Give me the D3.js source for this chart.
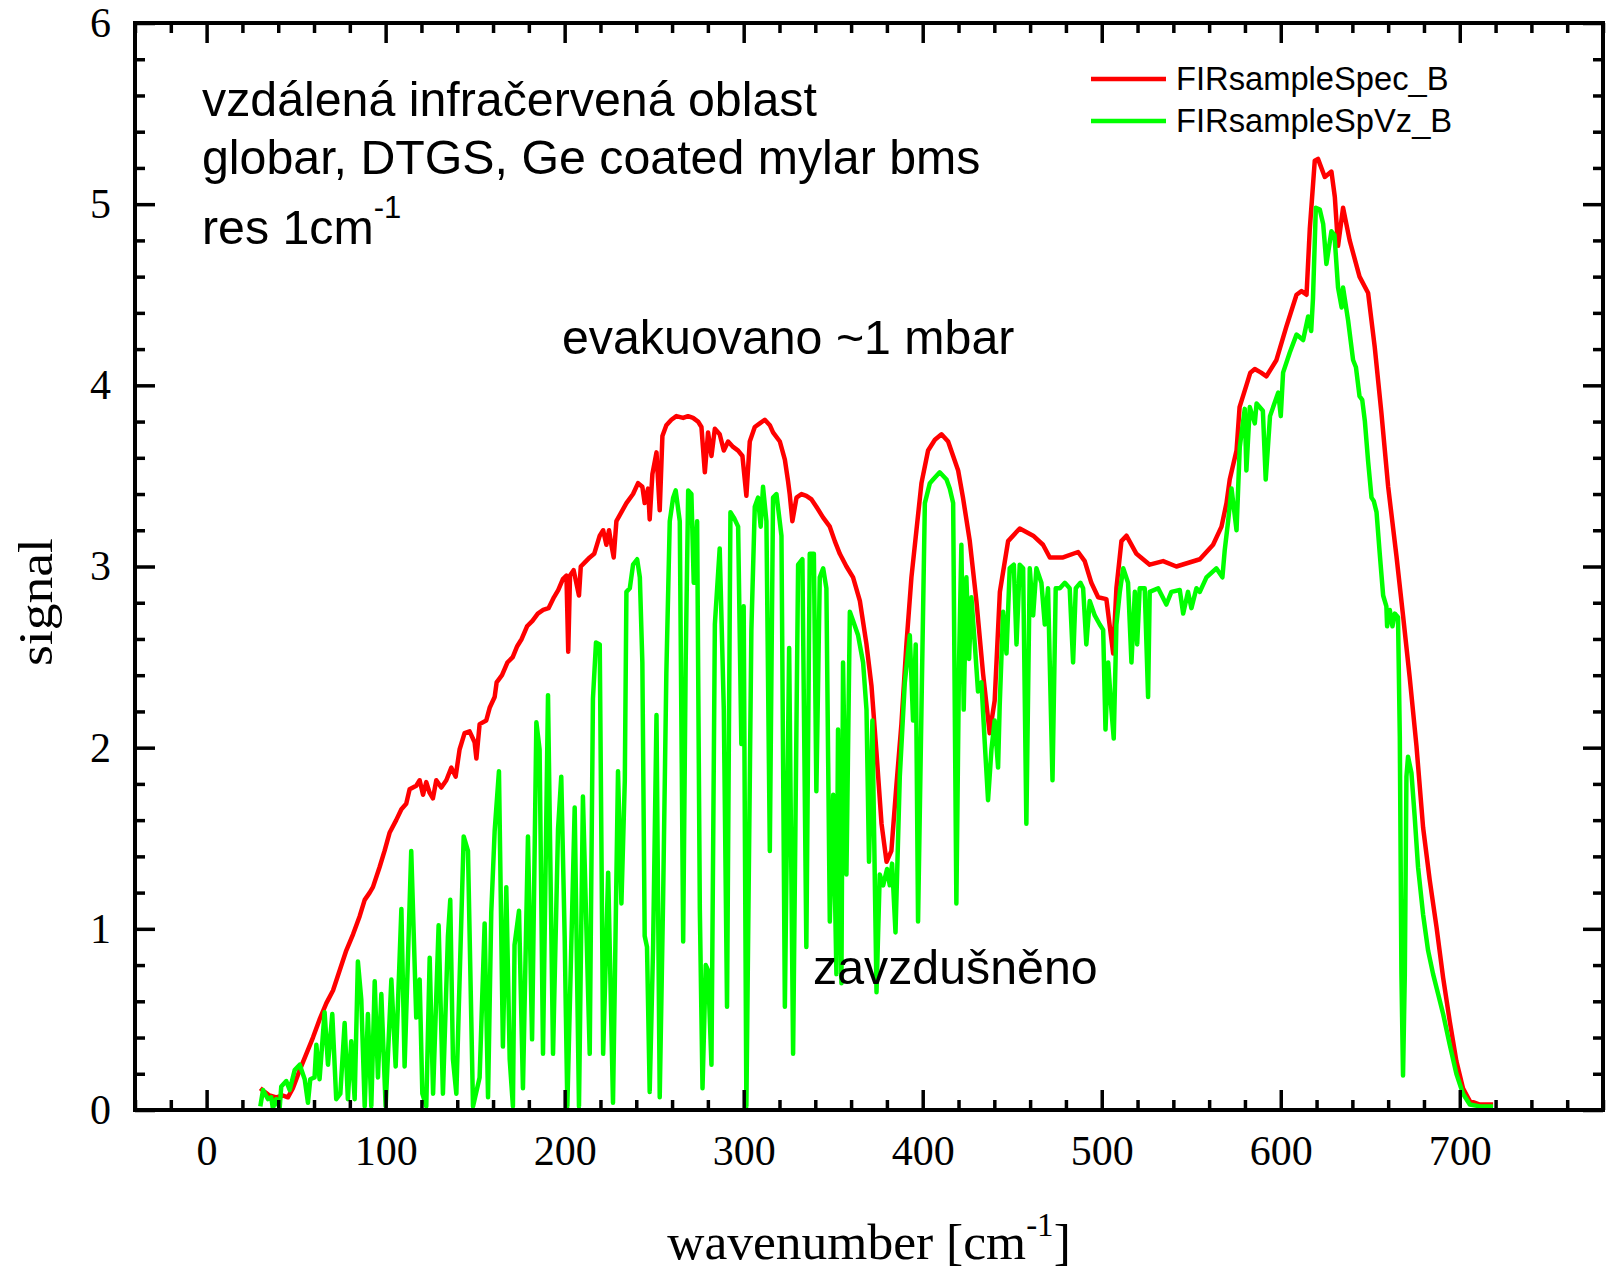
<!DOCTYPE html>
<html><head><meta charset="utf-8">
<script src="https://cdn.jsdelivr.net/npm/d3@7"></script>
<style>body{margin:0;background:#fff} svg{display:block}</style>
</head><body><svg id="c" width="1608" height="1272"></svg>
<script>
// ---- data (wavenumber [cm-1], signal) ----
const seriesNames = ["FIRsampleSpec_B", "FIRsampleSpVz_B"];
const xTickLabels = [0, 100, 200, 300, 400, 500, 600, 700];
const yTickLabels = [0, 1, 2, 3, 4, 5, 6];

const evacuatedSpectrum = [
[30,0.12],[32.4,0.10],[35.2,0.08],[38.9,0.07],[42.6,0.08],[45.4,0.07],[48.2,0.12],[52,0.22],[55.7,0.31],[59.4,0.40],
[63.1,0.50],[66.9,0.59],[70.6,0.66],[74.3,0.77],[78,0.88],[81.8,0.97],[85.5,1.07],[88.3,1.16],[91.1,1.20],[92.9,1.23],
[96.6,1.34],[99.4,1.43],[102.2,1.53],[105.9,1.60],[108.8,1.66],[111.5,1.69],[113.4,1.77],[117.1,1.79],[119,1.82],[120.9,1.74],
[122.7,1.81],[124.6,1.75],[126.4,1.72],[128.3,1.82],[131.1,1.78],[133.9,1.82],[136.7,1.89],[139.1,1.84],[141.3,1.99],[144.1,2.08],
[146.9,2.09],[149.7,2.03],[150.7,1.94],[152.5,2.13],[156.2,2.15],[158.1,2.22],[160.9,2.28],[162,2.36],[165,2.40],[168,2.47],
[171,2.50],[173.5,2.56],[176,2.60],[179,2.67],[182,2.70],[185,2.74],[188,2.76],[191,2.77],[194,2.83],[196.4,2.87],
[199,2.93],[201,2.95],[202,2.53],[203,2.95],[205,2.98],[208,2.84],[209,3.0],[211,3.02],[214,3.05],[216.5,3.07],
[219.6,3.17],[221.5,3.2],[223.3,3.12],[224.8,3.2],[226.1,3.12],[227.4,3.05],[228.9,3.25],[231.7,3.3],[234.5,3.35],[238.2,3.4],
[241,3.46],[243.4,3.44],[244.7,3.35],[246.6,3.43],[247.5,3.26],[249,3.51],[251.3,3.63],[253.1,3.31],[254.6,3.72],[256.8,3.78],
[259.6,3.81],[262.4,3.83],[266.2,3.82],[268.9,3.83],[271.7,3.82],[274.5,3.8],[276.4,3.77],[278.3,3.52],[280.1,3.74],[282,3.61],
[283.9,3.76],[286.6,3.73],[288.9,3.64],[291.3,3.69],[294.1,3.66],[296.9,3.64],[299.3,3.61],[301.5,3.39],[303.4,3.69],[306.2,3.77],
[309,3.79],[311.8,3.81],[314.6,3.78],[316.4,3.74],[320.2,3.69],[323,3.59],[324.8,3.47],[325.7,3.40],[327.2,3.25],[329.5,3.38],
[332.3,3.40],[335,3.39],[337.9,3.37],[340.6,3.33],[344.4,3.27],[348.1,3.22],[350.9,3.14],[353.7,3.07],[357.4,3.0],[361.1,2.94],
[364.9,2.81],[368.6,2.57],[371.4,2.34],[374.2,1.97],[377,1.58],[379.8,1.37],[382.5,1.43],[385.3,1.79],[388.1,2.13],[390.9,2.57],
[393.7,2.94],[396.5,3.20],[399.3,3.46],[403,3.64],[406.8,3.70],[410.5,3.73],[414.2,3.69],[417,3.61],[419.8,3.53],[422.5,3.38],
[426.3,3.14],[430,2.81],[433.7,2.41],[437.4,2.08],[440.2,2.26],[443.1,2.86],[447.7,3.14],[454.2,3.21],[461.7,3.17],[467.2,3.12],
[471,3.05],[478.4,3.05],[486.8,3.08],[490.5,3.03],[494.2,2.91],[498,2.83],[502.6,2.82],[506.4,2.52],[508.2,2.88],[511,3.14],
[513.8,3.17],[519.4,3.07],[526.8,3.01],[534.3,3.03],[541.7,3.0],[554.8,3.04],[562.2,3.12],[566.9,3.22],[569.7,3.35],[571.5,3.48],
[575.3,3.64],[577,3.88],[580.8,4.0],[583,4.07],[585.5,4.09],[589,4.07],[592,4.05],[597.6,4.14],[603,4.32],[608.8,4.5],
[611.6,4.52],[614.4,4.5],[616.2,4.86],[619,5.24],[620.8,5.25],[624.6,5.15],[628.3,5.18],[630.2,5.04],[632,4.77],[634.8,4.98],
[638.5,4.8],[644,4.6],[648.8,4.51],[652.5,4.21],[656.2,3.85],[660,3.44],[664.6,3.06],[668.3,2.73],[672,2.39],[675.8,2.01],
[679.5,1.56],[683.2,1.27],[687,1.01],[690.7,0.73],[694.4,0.49],[698.1,0.27],[701.8,0.12],[705.6,0.05],[711.2,0.03],[718.6,0.03]
];

const ventedSpectrum = [
[30,0.02],[31.5,0.11],[34.3,0.06],[36.1,0.07],[37,0.01],[38.9,0.06],[40.8,0.01],[41.7,0.13],[44.5,0.16],[46.4,0.11],
[49.2,0.22],[52,0.25],[54.8,0.17],[56.6,0.04],[57.9,0.17],[60.3,0.18],[61.3,0.36],[63.1,0.17],[65.9,0.54],[67.8,0.25],
[70.2,0.53],[72.4,0.06],[74.7,0.09],[77.1,0.48],[78.9,0.06],[80.8,0.38],[82.7,0.06],[84.5,0.82],[86.4,0.61],[88.3,0.02],
[90.1,0.53],[92,0.02],[93.9,0.71],[95.7,0.18],[97.6,0.64],[100,0.02],[103.2,0.72],[105.6,0.24],[108.8,1.11],[110.6,0.24],
[114.3,1.43],[117.1,0.51],[119,0.72],[120.5,0.09],[122.7,0.02],[124.6,0.84],[126.5,0.09],[129.6,1.02],[132,0.09],[134.8,0.96],
[136.1,1.16],[137.6,0.28],[139.5,0.09],[143.6,1.51],[146,1.43],[148.8,0.02],[152.5,0.18],[155.3,1.03],[157.2,0.07],[159,1.09],
[160.9,1.54],[163.3,1.87],[165.5,0.35],[167.4,1.23],[169.3,0.28],[171.1,0.02],[172,0.91],[174.5,1.10],[176.7,0.12],[179.5,1.51],
[181.8,0.39],[184.2,2.14],[186,1.99],[187.9,0.31],[190.7,2.29],[193.5,0.31],[196.3,1.55],[198.1,1.84],[200,0.96],[201.5,0.02],
[205.6,1.67],[208,0.02],[210.2,1.73],[214,0.31],[215.8,2.27],[217.5,2.58],[219.6,2.57],[221.5,0.31],[224.3,1.31],[227,0.04],
[229.8,1.87],[231.7,1.14],[233.6,1.82],[234.5,2.86],[236.4,2.88],[238.2,3.01],[240.5,3.04],[242,2.94],[243.4,2.47],[244.7,0.96],
[246,0.9],[247.5,0.1],[249.4,0.9],[251.3,2.18],[253.1,0.07],[255,1.17],[256.8,2.41],[258.7,3.25],[260.6,3.38],[262,3.42],
[264.3,3.25],[266.2,0.93],[267.6,2.47],[269,3.42],[270.8,3.4],[272.1,2.91],[274,3.25],[275.5,1.11],[277,0.12],[278.8,0.8],
[280.1,0.77],[282,0.25],[283.9,2.68],[286.6,3.1],[288.9,2.21],[290.7,0.57],[292.6,3.3],[294.5,3.27],[296.9,3.22],[298.7,2.02],
[300,2.78],[301.5,0.02],[304.3,2.65],[306.2,3.33],[308,3.38],[309.5,3.22],[310.8,3.44],[312.7,3.25],[314.6,1.43],[316.4,3.38],
[318.3,3.4],[321.1,3.17],[323,0.57],[325.4,2.55],[327.6,0.31],[330.4,3.01],[332.8,3.04],[335,0.9],[336.9,3.07],[339.2,3.07],
[340.6,1.76],[342.5,2.94],[344.4,2.99],[346.2,2.88],[348.1,1.04],[350,1.74],[351.8,0.75],[352.7,2.10],[354.6,0.7],[355.5,2.47],
[357.4,1.30],[359.3,2.75],[361.1,2.7],[363.9,2.62],[366.7,2.47],[368.6,2.21],[370,1.37],[371.9,2.15],[374.2,0.65],[376,1.30],
[377.9,1.24],[380.1,1.33],[381.6,1.24],[382.9,1.36],[384.8,0.98],[387.2,1.84],[390,2.36],[392.8,2.62],[394.6,2.15],[396.1,2.57],
[397.4,1.04],[399.3,2.21],[401.2,3.35],[404,3.46],[405.8,3.48],[409.5,3.52],[413.3,3.48],[415.1,3.43],[417,3.35],[418.8,1.14],
[420.3,2.47],[421.6,3.12],[422.9,2.21],[424.4,2.94],[425.9,2.49],[427.2,2.83],[429.1,2.57],[430.9,2.31],[432.8,2.36],[434.7,2.02],
[436.5,1.71],[438.4,1.99],[440.2,2.15],[442.1,1.89],[443,2.23],[444.9,2.75],[446.8,2.52],[448.6,2.99],[450.9,3.01],[452.4,2.57],
[454.2,3.01],[456.1,2.99],[457.9,1.58],[459.8,2.99],[461.7,2.73],[463.5,2.99],[466.3,2.91],[468.2,2.68],[470,2.88],[472.5,1.82],
[474.3,2.88],[476.6,2.88],[479.4,2.91],[482.1,2.88],[484,2.47],[485.5,2.88],[488.1,2.91],[489.6,2.88],[491.4,2.57],[493.3,2.81],
[496.1,2.73],[498.9,2.68],[500.8,2.65],[502.1,2.10],[503.6,2.47],[505.4,2.21],[506.7,2.05],[508.2,2.68],[510.1,2.86],[512,2.99],
[514.7,2.91],[516.6,2.47],[518.5,2.86],[519.8,2.57],[521.2,2.88],[524,2.88],[525.9,2.28],[526.8,2.86],[531.5,2.88],[536.1,2.79],
[538.9,2.86],[543.6,2.87],[545.5,2.74],[548.2,2.86],[550.1,2.77],[552.9,2.88],[554.8,2.86],[558.5,2.94],[564,2.99],[567.4,2.94],
[568.7,3.09],[570.6,3.25],[572.5,3.43],[575.3,3.2],[577.1,3.66],[579.9,3.87],[580.8,3.53],[582.7,3.88],[585.5,3.79],[586.5,3.9],
[590,3.86],[591.6,3.48],[594,3.83],[598.6,3.96],[600,3.83],[601.3,4.07],[605,4.18],[608.8,4.28],[612.5,4.25],[615.3,4.38],
[617,4.3],[618,4.48],[619.6,4.98],[621.8,4.97],[623.7,4.89],[625.5,4.67],[628.3,4.85],[630,4.83],[632,4.54],[634,4.43],
[634.8,4.54],[637.6,4.36],[640.4,4.14],[642,4.10],[644,3.94],[645.5,3.92],[647,3.8],[648.8,3.58],[650.7,3.38],[652,3.36],[653.5,3.3],[655.3,3.07],[657.2,2.84],
[659,2.78],[659.4,2.67],[660.9,2.76],[662.4,2.67],[663.7,2.74],[665.5,2.72],[666.5,2.06],[667.4,0.75],[668.3,0.19],[669.3,0.75],
[670.2,1.84],[671.1,1.95],[673,1.86],[674.8,1.62],[676.7,1.34],[679.5,1.08],[682.3,0.88],[685.1,0.75],[687.9,0.64],[690.7,0.53],
[694.4,0.36],[698.1,0.20],[701.8,0.09],[705.6,0.03],[711.2,0.02],[718.6,0.02]
];

// ---- layout ----
const svg = d3.select("#c");
const L = 135, R = 1603, T = 23, B = 1110;
const x = d3.scaleLinear().domain([-40, 780]).range([L, R]);
const y = d3.scaleLinear().domain([0, 6]).range([B, T]);

const serif = "'Liberation Serif','Times New Roman',serif";
const sans = "'Liberation Sans',Arial,sans-serif";

const xMinor = d3.range(-40, 781, 20).filter(v => v % 100 !== 0);
const yMinor = d3.range(0, 6.001, 0.2).map(v => +v.toFixed(1)).filter(v => Math.abs(v - Math.round(v)) > 1e-6);

function styleAxis(g) {
  g.select(".domain").remove();
  g.selectAll(".tick line").attr("stroke", "#000").attr("stroke-width", 3.5);
  g.selectAll(".tick text").attr("fill", "#000").attr("font-family", serif).attr("font-size", 42);
}

// data lines (under the frame)
svg.append("clipPath").attr("id", "clip").append("rect")
  .attr("x", L).attr("y", T - 10).attr("width", R - L).attr("height", B - T + 10);
const line = d3.line().x(d => x(d[0])).y(d => y(d[1]));
const plot = svg.append("g").attr("clip-path", "url(#clip)");
plot.append("path").datum(evacuatedSpectrum).attr("d", line)
  .attr("fill", "none").attr("stroke", "#ff0000").attr("stroke-width", 4.5).attr("stroke-linejoin", "round");
plot.append("path").datum(ventedSpectrum).attr("d", line)
  .attr("fill", "none").attr("stroke", "#00ff00").attr("stroke-width", 4.5).attr("stroke-linejoin", "round");

// axes
svg.append("g").attr("transform", `translate(0,${B})`)
  .call(d3.axisBottom(x).tickValues(xTickLabels).tickSize(-20).tickPadding(25).tickFormat(d3.format("d")))
  .call(styleAxis);
svg.append("g").attr("transform", `translate(0,${B})`)
  .call(d3.axisBottom(x).tickValues(xMinor).tickSize(-10).tickFormat(""))
  .call(styleAxis);
svg.append("g").attr("transform", `translate(0,${T})`)
  .call(d3.axisTop(x).tickValues(xTickLabels).tickSize(-20).tickFormat(""))
  .call(styleAxis);
svg.append("g").attr("transform", `translate(0,${T})`)
  .call(d3.axisTop(x).tickValues(xMinor).tickSize(-10).tickFormat(""))
  .call(styleAxis);
svg.append("g").attr("transform", `translate(${L},0)`)
  .call(d3.axisLeft(y).tickValues(yTickLabels).tickSize(-20).tickPadding(24).tickFormat(d3.format("d")))
  .call(styleAxis);
svg.append("g").attr("transform", `translate(${L},0)`)
  .call(d3.axisLeft(y).tickValues(yMinor).tickSize(-10).tickFormat(""))
  .call(styleAxis);
svg.append("g").attr("transform", `translate(${R},0)`)
  .call(d3.axisRight(y).tickValues(yTickLabels).tickSize(-20).tickFormat(""))
  .call(styleAxis);
svg.append("g").attr("transform", `translate(${R},0)`)
  .call(d3.axisRight(y).tickValues(yMinor).tickSize(-10).tickFormat(""))
  .call(styleAxis);

// frame
svg.append("rect").attr("x", L).attr("y", T).attr("width", R - L).attr("height", B - T)
  .attr("fill", "none").attr("stroke", "#000").attr("stroke-width", 4);

// axis titles
const xt = svg.append("text").attr("x", (L + R) / 2).attr("y", 1259).attr("text-anchor", "middle")
  .attr("font-family", serif).attr("font-size", 51.5).attr("fill", "#000");
xt.append("tspan").text("wavenumber [cm");
xt.append("tspan").attr("font-size", 33).attr("dy", -23).text("-1");
xt.append("tspan").attr("dy", 23).text("]");

svg.append("text").attr("transform", `translate(52,602) rotate(-90)`)
  .attr("text-anchor", "middle").attr("font-family", serif).attr("font-size", 49).attr("fill", "#000")
  .attr("textLength", 128).attr("lengthAdjust", "spacingAndGlyphs")
  .text("signal");

// annotations
const ann = svg.append("g").attr("font-family", sans).attr("font-size", 48.3).attr("fill", "#000");
ann.append("text").attr("x", 202).attr("y", 116).text("vzdálená infračervená oblast");
ann.append("text").attr("x", 202).attr("y", 174).text("globar, DTGS, Ge coated mylar bms");
const res = ann.append("text").attr("x", 202).attr("y", 244);
res.append("tspan").text("res 1cm");
res.append("tspan").attr("font-size", 31).attr("dy", -26).text("-1");
ann.append("text").attr("x", 562).attr("y", 354).text("evakuovano ~1 mbar");
ann.append("text").attr("x", 813).attr("y", 984).text("zavzdušněno");

// legend
const legendColors = ["#ff0000", "#00ff00"];
const lg = svg.append("g");
seriesNames.forEach((name, i) => {
  const yy = 79 + i * 42;
  lg.append("line").attr("x1", 1091).attr("x2", 1166).attr("y1", yy).attr("y2", yy)
    .attr("stroke", legendColors[i]).attr("stroke-width", 4.5);
  lg.append("text").attr("x", 1176).attr("y", yy + 11).attr("font-family", sans).attr("font-size", 32.7)
    .attr("fill", "#000").text(name);
});
</script></body></html>
